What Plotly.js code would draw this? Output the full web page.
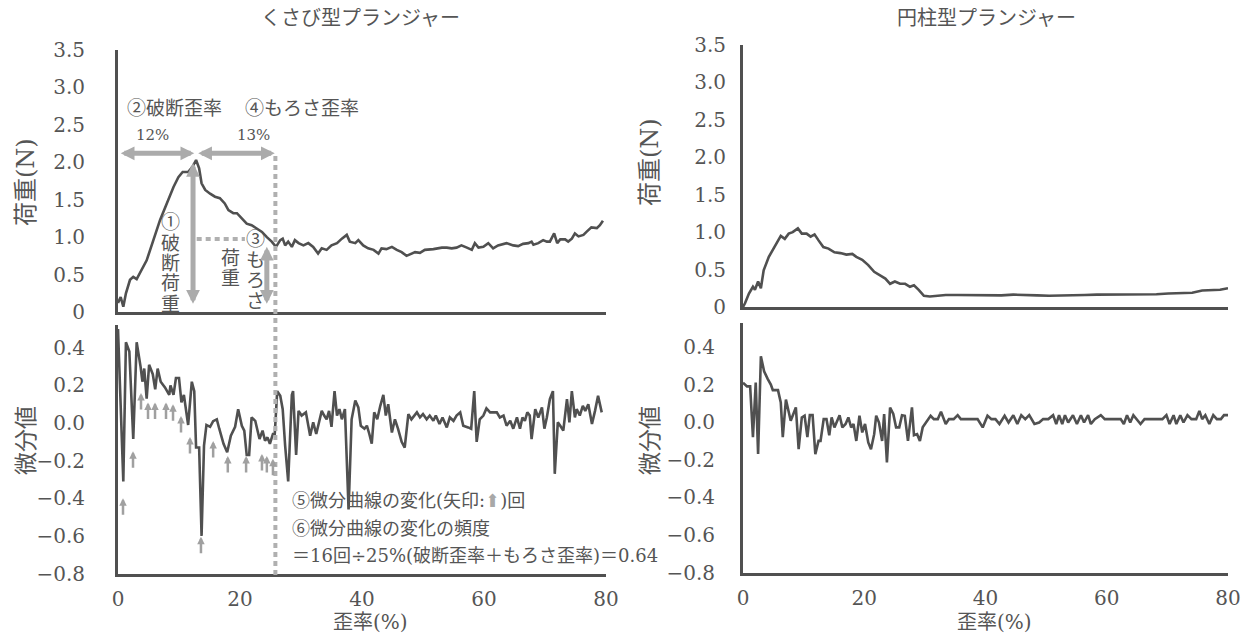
<!DOCTYPE html>
<html>
<head>
<meta charset="utf-8">
<script src="https://cdn.plot.ly/plotly-3.0.1.min.js"></script>
<style>html,body{margin:0;padding:0;background:#fff;}#chart{width:1243px;height:635px;}</style>
</head>
<body>
<div id="chart"></div>
<script>
// ---------- data ----------
const panelTitles = ["くさび型プランジャー", "円柱型プランジャー"];
const loadTitle = "荷重(N)";
const diffTitle = "微分値";
const strainTitle = "歪率(%)";

const loadTicks = [0, 0.5, 1.0, 1.5, 2.0, 2.5, 3.0, 3.5];
const loadTickText = ["0", "0.5", "1.0", "1.5", "2.0", "2.5", "3.0", "3.5"];
const diffTicks = [-0.8, -0.6, -0.4, -0.2, 0.0, 0.2, 0.4];
const strainTicks = [0, 20, 40, 60, 80];

// くさび型 load curve
const wedgeStrain = [0,0.44,0.87,1.3,1.97,2.5,3.06,3.9,4.7,5.8,6.9,8.0,9.1,9.9,10.6,11.5,12.2,12.8,13.3,13.7,14.3,15.1,15.9,16.7,17.5,18.1,18.9,19.5,20.3,21.1,21.9,22.7,23.6,24.4,25.2,25.9,26.6,27.0,27.4,27.9,28.5,29.0,29.6,30.4,31.2,32.0,32.8,33.4,34.2,35.0,35.9,36.7,37.5,38.0,38.9,39.4,40.2,41.0,41.9,42.7,43.2,44.0,44.9,45.7,46.5,47.3,48.7,49.5,50.3,51.7,53.1,53.9,54.7,55.5,56.3,57.2,58.0,58.5,59.1,59.9,60.7,61.5,62.3,63.7,64.8,65.6,66.4,67.3,67.8,68.1,68.9,69.7,70.3,70.8,71.5,72.0,72.5,73.3,73.8,74.4,74.9,75.5,76.3,76.8,77.6,78.5,79.0,79.5];
const wedgeLoad = [0.12,0.2,0.07,0.25,0.43,0.47,0.44,0.56,0.69,0.96,1.23,1.45,1.67,1.80,1.87,1.87,1.94,2.03,1.92,1.72,1.63,1.58,1.54,1.52,1.45,1.36,1.32,1.32,1.25,1.18,1.16,1.12,1.07,1.0,0.94,0.87,0.96,0.98,0.89,0.94,0.87,0.96,0.92,0.89,0.92,0.87,0.78,0.85,0.83,0.89,0.92,0.98,1.03,0.94,0.92,0.96,0.89,0.85,0.83,0.78,0.85,0.84,0.87,0.83,0.80,0.75,0.80,0.79,0.83,0.84,0.86,0.86,0.85,0.86,0.89,0.86,0.83,0.92,0.86,0.87,0.92,0.85,0.89,0.92,0.89,0.88,0.91,0.92,0.94,0.90,0.92,0.96,0.94,0.94,1.05,0.92,0.97,0.97,0.94,0.98,1.05,1.01,1.03,1.07,1.13,1.12,1.16,1.22];

// くさび型 derivative
const wedgeDiffStrain = [0,0.87,1.3,1.86,2.5,3.06,3.7,4.0,4.3,4.7,5.1,5.7,6.1,6.5,7.0,7.7,8.4,8.6,9.1,9.5,10.0,10.4,10.8,11.5,12.1,12.5,12.8,13.3,13.7,14.1,14.5,15.1,15.6,16.2,16.6,17.3,17.9,18.5,19.2,19.7,20.3,20.7,21.1,21.5,21.9,22.5,23.2,23.7,24.1,24.5,24.9,25.4,25.7,26.1,26.6,27.0,27.4,27.9,28.5,28.7,29.2,29.6,30.1,30.8,31.5,32.0,32.5,32.8,33.4,33.8,34.2,34.6,35.0,35.5,35.9,36.3,36.7,37.2,37.8,38.3,38.9,39.4,39.8,40.4,40.8,41.2,41.6,42.0,42.5,43.0,43.5,43.9,44.3,44.9,45.4,45.9,46.5,47.0,47.6,48.1,49.0,49.5,50.0,50.6,51.1,51.7,52.1,52.7,53.2,53.9,54.4,55.0,55.5,56.1,56.6,57.4,57.9,58.4,58.8,59.3,59.9,60.4,61.0,62.1,62.6,63.2,63.7,64.3,64.8,65.4,65.9,66.3,66.7,67.1,67.5,67.8,68.4,68.9,69.5,69.9,70.3,70.8,71.3,71.6,72.1,72.5,73.0,73.6,74.0,74.4,74.9,75.2,75.7,76.2,76.6,77.1,77.7,78.2,78.7,79.3];
const wedgeDiff = [0.50,-0.31,0.43,0.38,-0.085,0.43,0.30,0.22,0.29,0.13,0.31,0.26,0.18,0.29,0.22,0.19,0.15,0.20,0.15,0.24,0.24,0.11,0.15,-0.01,0.22,0.17,-0.13,-0.13,-0.60,-0.12,-0.01,-0.02,0.01,0.02,-0.03,-0.11,-0.155,-0.067,-0.02,0.074,-0.014,-0.04,-0.17,-0.17,0.03,0.012,-0.085,-0.04,-0.094,-0.076,-0.11,-0.058,-0.058,0.17,0.145,0.074,-0.12,-0.31,0.15,0.17,-0.17,0.065,0.04,0.057,-0.067,0.004,-0.058,-0.014,0.065,0.04,0.02,0.065,-0.02,0.17,0.04,0.074,0.02,0.074,-0.46,0.02,0.12,0.083,-0.014,-0.03,-0.014,-0.058,-0.11,0.057,0.02,0.092,0.15,0.04,0.1,-0.05,0.02,-0.03,-0.10,-0.13,0.048,0.02,0.057,0.03,0.048,0.02,0.04,0.012,0.04,-0.005,0.03,-0.023,0.03,0.012,0.04,0.057,-0.014,-0.023,-0.03,0.17,-0.10,0.02,0.04,0.078,0.057,0.057,0.03,0.04,-0.014,0.012,-0.03,0.03,-0.03,0.03,0.012,0.057,0.04,-0.085,0.074,0.03,0.083,-0.03,0.03,0.127,0.17,-0.27,0.004,-0.014,-0.04,0.127,0.004,0.17,0.03,0.074,0.04,0.092,0.065,0.1,-0.005,0.065,0.145,0.057];

// 円柱型 load curve
const cylStrain = [0,0.33,0.98,1.64,1.97,2.49,2.95,3.41,4.26,5.25,6.23,6.89,7.54,8.20,9.05,9.70,10.49,11.15,11.80,12.46,13.25,14.10,15.08,16.07,17.05,18.03,18.69,19.67,20.66,21.64,22.62,23.48,24.26,25.05,25.90,26.75,27.54,28.20,28.98,29.84,30.82,32.13,33.44,35.41,37.38,39.34,40.66,42.62,44.59,46.56,48.52,50.49,52.46,54.43,56.39,58.36,60.33,62.30,64.26,66.23,68.20,70.16,72.13,74.10,75.74,77.38,78.69,80.0];
const cylLoad = [0,0.05,0.18,0.27,0.23,0.34,0.25,0.49,0.67,0.82,0.95,0.91,0.98,1.0,1.05,0.98,0.98,0.94,0.97,0.89,0.80,0.78,0.73,0.72,0.70,0.71,0.67,0.63,0.56,0.47,0.42,0.38,0.31,0.34,0.31,0.31,0.27,0.29,0.23,0.15,0.14,0.15,0.16,0.16,0.16,0.16,0.15,0.155,0.165,0.165,0.155,0.15,0.15,0.15,0.16,0.165,0.165,0.17,0.17,0.17,0.17,0.18,0.18,0.19,0.22,0.22,0.23,0.25];

// 円柱型 derivative
const cylDiffStrain = [0,0.66,1.18,1.64,2.10,2.49,2.95,3.48,4.07,4.59,4.92,5.77,6.23,6.56,7.08,7.41,7.87,8.72,9.18,9.70,10.16,10.62,11.02,11.48,11.93,12.46,12.79,13.31,13.77,14.23,14.62,15.08,15.93,16.39,16.92,17.38,17.84,18.23,18.69,19.21,19.67,20.13,20.66,21.11,21.64,21.97,22.43,22.95,23.28,23.74,24.26,24.79,25.25,25.77,26.23,26.69,27.21,27.87,28.20,28.72,29.18,29.64,30.16,30.95,31.48,32.13,32.66,33.44,33.97,34.75,35.41,35.93,38.69,39.54,40.33,40.98,41.64,42.30,43.15,43.80,44.59,45.25,45.90,46.56,47.21,48.07,48.85,49.51,50.36,51.15,51.67,52.13,52.66,53.11,53.64,54.43,55.08,55.74,56.26,56.92,57.38,58.03,59.02,59.67,62.30,62.82,63.34,63.87,64.39,64.92,65.57,66.23,69.18,69.84,70.36,71.02,71.48,72.13,72.66,73.31,73.97,74.75,75.28,75.74,76.26,76.92,77.57,78.16,78.82,79.34,80.0];
const cylDiff = [0.21,0.19,0.19,-0.08,0.21,-0.17,0.35,0.27,0.23,0.20,0.17,0.17,0.105,-0.08,0.12,0.07,0.007,0.078,-0.144,0.025,0.034,-0.08,0.037,0.037,-0.17,-0.1,-0.1,0.016,0.016,-0.07,0.025,-0.028,0.037,-0.028,-0.01,0.025,-0.028,-0.01,-0.1,0.034,-0.055,-0.01,-0.108,-0.144,-0.064,0.034,-0.002,-0.1,0.043,-0.215,0.078,0.043,-0.028,-0.028,0.037,0.034,-0.1,0.078,-0.07,-0.064,-0.1,-0.028,-0.002,0.034,0.016,0.016,0.055,-0.01,0.016,0.016,0.037,0.016,0.016,-0.028,0.034,0.016,0.016,-0.01,0.034,-0.002,0.037,-0.01,0.037,0.016,0.037,-0.01,-0.002,0.016,0.016,0.037,-0.01,0.037,-0.01,0.037,-0.002,0.037,-0.01,0.037,-0.002,0.037,-0.01,0.016,0.037,0.016,0.016,-0.01,0.037,-0.002,0.037,0.016,-0.01,0.016,0.016,0.037,-0.01,0.037,-0.01,0.037,-0.002,0.037,0.016,0.016,0.06,0.016,0.037,-0.01,0.037,0.016,0.016,0.037,0.037];

// marked changes of the derivative curve (arrow heads: strain, value)
const changeStrain = [0.82,2.46,3.77,4.92,6.07,7.87,9.02,10.33,11.8,13.6,15.6,18.0,21.0,23.6,24.4,25.4];
const changeValue = [-0.40,-0.15,0.16,0.11,0.11,0.11,0.10,0.037,-0.074,-0.605,-0.095,-0.175,-0.175,-0.164,-0.175,-0.19];

// ---------- styling ----------
const W = 1243, H = 635;
const INK = "#505050";
const TXT = "#555555";
const ARW = "#ababab";
const NUMFONT = '"DejaVu Serif", "Noto Sans CJK JP", serif';
const JPFONT = '"DejaVu Serif", "Noto Sans CJK JP", "DejaVu Sans", serif';
const px = (xp) => xp / W;
const py = (yp) => 1 - yp / H;

const LX = [px(118), px(606)];
const RX = [px(743), px(1228)];
const LT = [py(312), py(50)];
const LB = [py(573.5), py(325.3)];
const RT = [py(307), py(45)];
const RB = [py(572.5), py(322.5)];

function xAx(domain, anchor, labels) {
  return {domain: domain, anchor: anchor, range: [0, 80], autorange: false,
    showline: true, linecolor: INK, linewidth: 3, showgrid: false, zeroline: false,
    tickvals: strainTicks, showticklabels: labels, ticklabeloverflow: "allow",
    ticks: labels ? "outside" : "", ticklen: 5, tickcolor: "rgba(0,0,0,0)",
    tickfont: {family: NUMFONT, size: 20, color: TXT}};
}
function yAx(domain, anchor, range, vals, text, standoff) {
  const a = {domain: domain, anchor: anchor, range: range, autorange: false,
    showline: true, linecolor: INK, linewidth: 3, showgrid: false, zeroline: false,
    tickvals: vals, ticks: "outside", ticklen: standoff, tickcolor: "rgba(0,0,0,0)",
    ticklabeloverflow: "allow",
    tickfont: {family: NUMFONT, size: 20, color: TXT}};
  if (text) { a.ticktext = text; } else { a.tickformat = ".1f"; }
  return a;
}

const line = {color: INK, width: 2.6};
const traces = [
  {x: wedgeStrain, y: wedgeLoad, xaxis: "x", yaxis: "y", type: "scatter", mode: "lines", line: line},
  {x: wedgeDiffStrain, y: wedgeDiff, xaxis: "x2", yaxis: "y2", type: "scatter", mode: "lines", line: line},
  {x: cylStrain, y: cylLoad, xaxis: "x3", yaxis: "y3", type: "scatter", mode: "lines", line: line},
  {x: cylDiffStrain, y: cylDiff, xaxis: "x4", yaxis: "y4", type: "scatter", mode: "lines", line: line}
];

const ann = [];
function txt(t, xp, yp, size, opts) {
  ann.push(Object.assign({text: t, xref: "paper", yref: "paper", x: px(xp), y: py(yp),
    showarrow: false, xanchor: "center", yanchor: "middle",
    font: {family: JPFONT, size: size, color: TXT}}, opts || {}));
}
function stack(chars, xp, yStart, step, size) {
  chars.forEach((c, i) => txt(c, xp, yStart + i * step, size));
}
function dblArrow(xr, yr, x0, y0, x1, y1) {
  ann.push({text: "", xref: xr, yref: yr, axref: xr, ayref: yr, x: x1, y: y1, ax: x0, ay: y0,
    showarrow: true, arrowhead: 2, arrowside: "end+start", arrowwidth: 5, arrowsize: 0.55, arrowcolor: ARW});
}

// titles
txt(panelTitles[0], 360, 18, 20);
txt(panelTitles[1], 986, 18, 20);
txt(loadTitle, 26, 182, 24, {textangle: -90});
txt(diffTitle, 26, 441, 23, {textangle: -90});
txt(loadTitle, 650, 162, 24, {textangle: -90});
txt(diffTitle, 650, 441, 23, {textangle: -90});
txt(strainTitle, 370, 622, 20);
txt(strainTitle, 994, 622, 20);

// load-curve explanations
txt("②破断歪率", 125, 108, 19, {xanchor: "left"});
txt("④もろさ歪率", 243, 108, 19, {xanchor: "left"});
txt("12%", 152, 135, 15);
txt("13%", 253, 135, 15);
stack(["①", "破", "断", "荷", "重"], 170, 222, 20.5, 19);
stack(["荷", "重"], 230, 258, 20.5, 19);
stack(["③", "も", "ろ", "さ"], 256, 239, 20.5, 19);

dblArrow("x", "y", 0.2, 2.12, 12.5, 2.12);
dblArrow("x", "y", 12.9, 2.12, 25.7, 2.12);
dblArrow("x", "y", 12.3, 0.09, 12.3, 1.99);
dblArrow("x", "y", 24.4, 0.09, 24.4, 0.87);

// derivative change marks
changeStrain.forEach((s, i) => {
  ann.push({text: "", xref: "x2", yref: "y2", x: s, y: changeValue[i], ax: 0, ay: 18,
    showarrow: true, arrowhead: 2, arrowwidth: 2.5, arrowsize: 0.6, arrowcolor: "#a0a0a0"});
});

txt('⑤微分曲線の変化(矢印:<span style="color:#a8a8a8">⬆</span>)回', 290, 500, 18, {xanchor: "left"});
txt("⑥微分曲線の変化の頻度", 290, 528, 18, {xanchor: "left"});
txt("＝16回÷25%(破断歪率＋もろさ歪率)＝0.64", 290, 555, 18, {xanchor: "left"});

const shapes = [
  {type: "line", xref: "x", yref: "paper", x0: 25.8, x1: 25.8, y0: py(575), y1: py(153),
   line: {color: "#b0b0b0", width: 4, dash: "5px,4px"}},
  {type: "line", xref: "x", yref: "y", x0: 12.9, x1: 20.8, y0: 0.975, y1: 0.975,
   line: {color: "#b0b0b0", width: 4, dash: "5px,4px"}}
];

const layout = {
  width: W, height: H, margin: {l: 0, r: 0, t: 0, b: 0},
  paper_bgcolor: "#ffffff", plot_bgcolor: "#ffffff", showlegend: false,
  font: {family: NUMFONT, color: TXT},
  xaxis: xAx(LX, "y", false),
  yaxis: yAx(LT, "x", [0, 3.5], loadTicks, loadTickText, 26),
  xaxis2: xAx(LX, "y2", true),
  yaxis2: yAx(LB, "x2", [-0.8, 0.52], diffTicks, null, 26),
  xaxis3: xAx(RX, "y3", false),
  yaxis3: yAx(RT, "x3", [0, 3.5], loadTicks, loadTickText, 10),
  xaxis4: xAx(RX, "y4", true),
  yaxis4: yAx(RB, "x4", [-0.8, 0.53], diffTicks, null, 21),
  annotations: ann,
  shapes: shapes
};

Plotly.newPlot("chart", traces, layout, {displayModeBar: false, staticPlot: true});
</script>
</body>
</html>
